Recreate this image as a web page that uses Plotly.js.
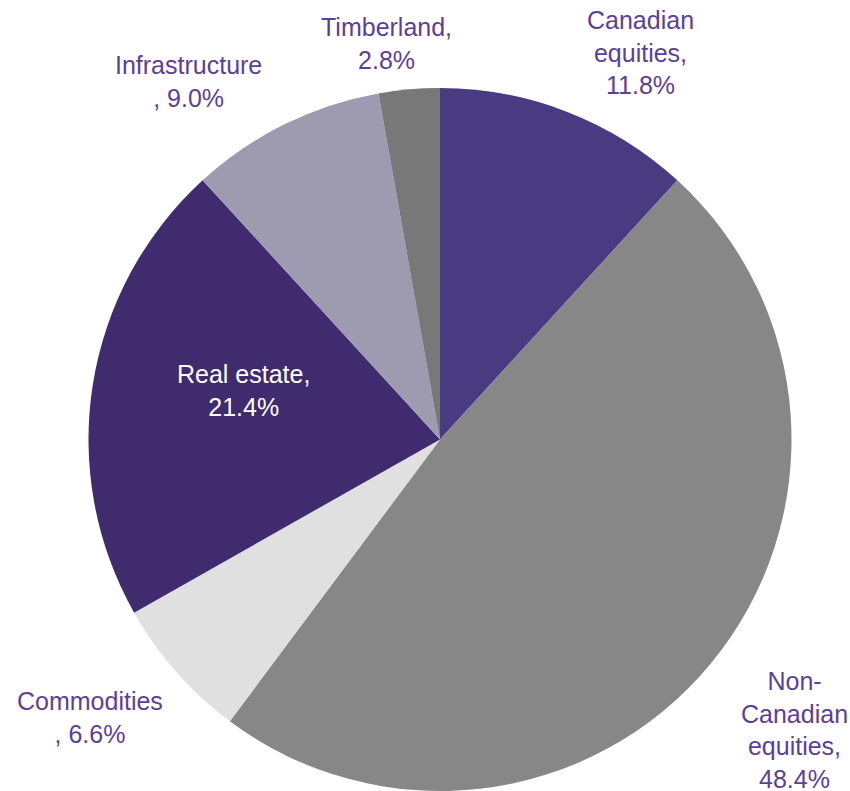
<!DOCTYPE html>
<html>
<head>
<meta charset="utf-8">
<script src="https://cdn.plot.ly/plotly-3.0.1.min.js"></script>
<style>html,body{margin:0;padding:0;background:#fff;}#chart{width:850px;height:791px;}</style>
</head>
<body>
<div id="chart"></div>
<script>
// Data
const categories = ["Canadian equities", "Non-Canadian equities", "Commodities", "Real estate", "Infrastructure", "Timberland"];
const values = [11.8, 48.4, 6.6, 21.4, 9.0, 2.8];
// Label line layout (as in the original chart)
const labelNames = ["Canadian<br>equities,", "Non-<br>Canadian<br>equities,", "Commodities<br>,", "Real estate,", "Infrastructure<br>,", "Timberland,"];
const labelSep = ["<br>", "<br>", " ", "<br>", " ", "<br>"];

const colors = ["#4a3a81", "#878787", "#e0e0e0", "#402b6e", "#9e9ab0", "#787878"];
const labelPos = [
  {x: 640, y: 52},
  {x: 794, y: 730},
  {x: 90, y: 717},
  {x: 243, y: 391},
  {x: 188, y: 82},
  {x: 386, y: 44}
];
const labelColor = ["#5b3f9b", "#5b3f9b", "#5b3f9b", "#ffffff", "#5b3f9b", "#5b3f9b"];

const W = 850, H = 791;
const annotations = categories.map((c, i) => ({
  text: labelNames[i] + labelSep[i] + values[i].toFixed(1) + "%",
  x: labelPos[i].x / W,
  y: 1 - labelPos[i].y / H,
  xref: "paper", yref: "paper",
  xanchor: "center", yanchor: "middle",
  showarrow: false,
  align: "center",
  font: {family: "Liberation Sans, Arial, sans-serif", size: 25, color: labelColor[i]}
}));

const trace = {
  type: "pie",
  labels: categories,
  values: values,
  sort: false,
  direction: "clockwise",
  rotation: 0,
  textinfo: "none",
  hoverinfo: "label+percent",
  marker: {colors: colors, line: {width: 0}},
  domain: {x: [88 / W, 792 / W], y: [0, 1 - 88 / H]},
  showlegend: false
};

const layout = {
  width: W, height: H,
  margin: {l: 0, r: 0, t: 0, b: 0},
  paper_bgcolor: "#ffffff",
  plot_bgcolor: "#ffffff",
  showlegend: false,
  annotations: annotations
};

Plotly.newPlot("chart", [trace], layout, {displayModeBar: false, staticPlot: true});
</script>
</body>
</html>
